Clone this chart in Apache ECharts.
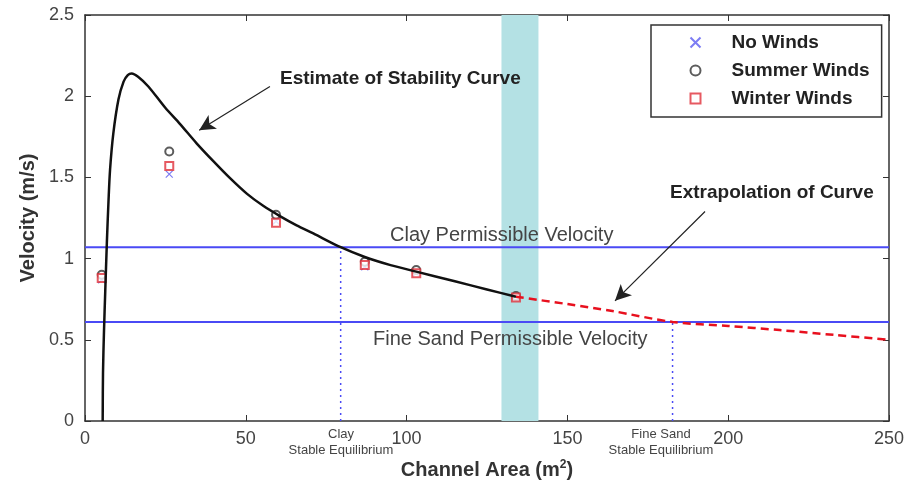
<!DOCTYPE html>
<html>
<head>
<meta charset="utf-8">
<script src="https://cdn.jsdelivr.net/npm/echarts@6/dist/echarts.min.js"></script>
<style>
  html, body { margin: 0; padding: 0; background: #fff; }
  #chart { width: 910px; height: 480px; }
</style>
</head>
<body>
<div id="chart"></div>
<script>
// 测点数据 (channel area m2, velocity m/s)
var noWinds = [[5.2, 0.87], [26.2, 1.52], [59.4, 1.23], [87, 0.95], [103, 0.91], [134, 0.76]];
var summerWinds = [[5.2, 0.90], [26.2, 1.66], [59.4, 1.27], [87, 0.98], [103, 0.93], [134, 0.77]];
var winterWinds = [[5.2, 0.88], [26.2, 1.57], [59.4, 1.22], [87, 0.96], [103, 0.91], [134, 0.76]];

// stability curve
var curveEstimate = [
  [5.5, 0], [5.6, 0.3], [5.9, 0.55], [6.3, 0.8], [6.8, 1.1], [7.3, 1.35], [7.8, 1.55],
  [8.8, 1.77], [10.4, 1.98], [12, 2.09], [13.3, 2.13], [14.5, 2.14], [16.5, 2.12],
  [19.7, 2.06], [24.9, 1.93], [29.5, 1.83], [34.7, 1.71], [39.9, 1.60], [45.1, 1.495],
  [50.3, 1.40], [55.4, 1.325], [60.6, 1.262], [65.8, 1.205], [71, 1.155], [79.5, 1.07],
  [87, 1.01], [95, 0.96], [103, 0.92], [115, 0.86], [125, 0.81], [134, 0.765]
];
var curveExtrapolated = [
  [134, 0.765], [150, 0.72], [164, 0.677], [182.7, 0.61], [200, 0.585], [216, 0.56], [233, 0.53], [250, 0.50]
];

var clayVelocity = 1.07;
var sandVelocity = 0.61;
var clayEquilibrium = 79.5;
var sandEquilibrium = 182.7;
var bandRange = [129.5, 141];

var xTicks = [0, 50, 100, 150, 200, 250];
var yTicks = [0, 0.5, 1, 1.5, 2, 2.5];

var axisColor = '#333';
var blue = '#4a4af5';

var myChart = echarts.init(document.getElementById('chart'));

function hLine(v) {
  return [[xTicks[0], v], [xTicks[xTicks.length - 1], v]];
}

myChart.setOption({
  animation: false,
  textStyle: { fontFamily: 'Liberation Sans, Arial, sans-serif' },
  grid: { left: 85, right: 21, top: 15, bottom: 59, containLabel: false, outerBoundsMode: 'none' },
  legend: {
    orient: 'vertical',
    left: 651,
    top: 25,
    backgroundColor: '#fff',
    borderColor: '#333',
    borderWidth: 1.5,
    padding: [8, 12, 9, 37],
    itemGap: 9,
    itemWidth: 10,
    itemHeight: 10,
    data: ['No Winds', 'Summer Winds', 'Winter Winds'],
    textStyle: { fontSize: 19, fontWeight: 'bold', color: '#222', padding: [0, 0, 0, 26] }
  },
  xAxis: [{
    type: 'value', min: 0, max: 250, interval: 50,
    axisLine: { onZero: false, lineStyle: { color: axisColor, width: 1.5 } },
    axisTick: { inside: true, length: 6, lineStyle: { color: axisColor } },
    axisLabel: { fontSize: 18, color: '#444', margin: 9 },
    splitLine: { show: false },
    name: '{b|Channel Area (m}{s|2}{b|)}',
    nameLocation: 'middle',
    nameGap: 38,
    nameTextStyle: {
      rich: {
        b: { fontSize: 20, fontWeight: 'bold', color: '#333' },
        s: { fontSize: 12, fontWeight: 'bold', color: '#333', verticalAlign: 'top', padding: [0, 0, 10, 0] }
      }
    }
  }, {
    type: 'value', min: 0, max: 250, interval: 50, position: 'top',
    axisLine: { onZero: false, lineStyle: { color: axisColor, width: 1.5 } },
    axisTick: { inside: true, length: 6, lineStyle: { color: axisColor } },
    axisLabel: { show: false },
    splitLine: { show: false }
  }],
  yAxis: [{
    type: 'value', min: 0, max: 2.5, interval: 0.5,
    axisLine: { show: true, onZero: false, lineStyle: { color: axisColor, width: 1.5 } },
    axisTick: { show: true, inside: true, length: 6, lineStyle: { color: axisColor } },
    axisLabel: { fontSize: 18, color: '#444', margin: 11 },
    splitLine: { show: false },
    name: 'Velocity (m/s)',
    nameLocation: 'middle',
    nameGap: 35,
    nameTextStyle: { fontSize: 20, fontWeight: 'bold', color: '#333' }
  }, {
    type: 'value', min: 0, max: 2.5, interval: 0.5, position: 'right',
    axisLine: { show: true, onZero: false, lineStyle: { color: axisColor, width: 1.5 } },
    axisTick: { show: true, inside: true, length: 6, lineStyle: { color: axisColor } },
    axisLabel: { show: false },
    splitLine: { show: false }
  }],
  series: [
    {
      // cyan band
      name: 'band', type: 'line', data: [], silent: true, z: 0,
      markArea: {
        silent: true,
        itemStyle: { color: '#b4e1e4' },
        data: [[{ xAxis: bandRange[0] }, { xAxis: bandRange[1] }]]
      }
    },
    {
      name: 'clay', type: 'line', data: hLine(clayVelocity), symbol: 'none',
      lineStyle: { color: blue, width: 2 }, silent: true
    },
    {
      name: 'sand', type: 'line', data: hLine(sandVelocity), symbol: 'none',
      lineStyle: { color: blue, width: 2 }, silent: true
    },
    {
      name: 'clayEq', type: 'line', data: [[clayEquilibrium, 0], [clayEquilibrium, clayVelocity]], symbol: 'none',
      lineStyle: { color: blue, width: 1.5, type: [2, 4] }, silent: true
    },
    {
      name: 'sandEq', type: 'line', data: [[sandEquilibrium, 0], [sandEquilibrium, sandVelocity]], symbol: 'none',
      lineStyle: { color: blue, width: 1.5, type: [2, 4] }, silent: true
    },
    {
      name: 'extrap', type: 'line', data: curveExtrapolated, symbol: 'none', smooth: 0.3,
      lineStyle: { color: '#e8101e', width: 2.5, type: [8, 5] }, silent: true
    },
    {
      name: 'curve', type: 'line', data: curveEstimate, symbol: 'none', smooth: 0.3,
      lineStyle: { color: '#111', width: 2.5 }, silent: true,
      markLine: {
        silent: true,
        symbol: ['none', 'arrow'],
        symbolSize: [12, 16],
        label: { show: false },
        lineStyle: { color: '#222', width: 1.2, type: 'solid' },
        data: [
          [{ coord: [57.5, 2.06] }, { coord: [35.5, 1.79] }],
          [{ coord: [192.8, 1.29] }, { coord: [164.8, 0.74] }]
        ]
      }
    },
    {
      name: 'No Winds', type: 'scatter', data: noWinds,
      symbol: 'path://M0,0L10,10M10,0L0,10', symbolSize: 7,
      itemStyle: { color: 'none', borderColor: '#5b5bf0', borderWidth: 1.2 }
    },
    {
      name: 'Summer Winds', type: 'scatter', data: summerWinds,
      symbol: 'emptyCircle', symbolSize: 8,
      itemStyle: { color: '#333', borderColor: '#333', borderWidth: 1.2 }
    },
    {
      name: 'Winter Winds', type: 'scatter', data: winterWinds,
      symbol: 'emptyRect', symbolSize: 8,
      itemStyle: { color: '#e0303a', borderColor: '#e0303a', borderWidth: 1.2 }
    }
  ],
  graphic: [
    { type: 'text', z: 100, left: 280, top: 69, style: { text: 'Estimate of Stability Curve', font: 'bold 19px Liberation Sans, Arial', fill: '#222' } },
    { type: 'text', z: 100, left: 670, top: 183, style: { text: 'Extrapolation of Curve', font: 'bold 19px Liberation Sans, Arial', fill: '#222' } },
    { type: 'text', z: 100, left: 390, top: 225, style: { text: 'Clay Permissible Velocity', font: '20px Liberation Sans, Arial', fill: '#444' } },
    { type: 'text', z: 100, left: 373, top: 329, style: { text: 'Fine Sand Permissible Velocity', font: '20px Liberation Sans, Arial', fill: '#444' } },
    { type: 'text', z: 100, x: 341, y: 426, style: { text: 'Clay\nStable Equilibrium', font: '13px Liberation Sans, Arial', fill: '#444', align: 'center', lineHeight: 16 } },
    { type: 'text', z: 100, x: 661, y: 426, style: { text: 'Fine Sand\nStable Equilibrium', font: '13px Liberation Sans, Arial', fill: '#444', align: 'center', lineHeight: 16 } }
  ]
});
</script>
</body>
</html>
